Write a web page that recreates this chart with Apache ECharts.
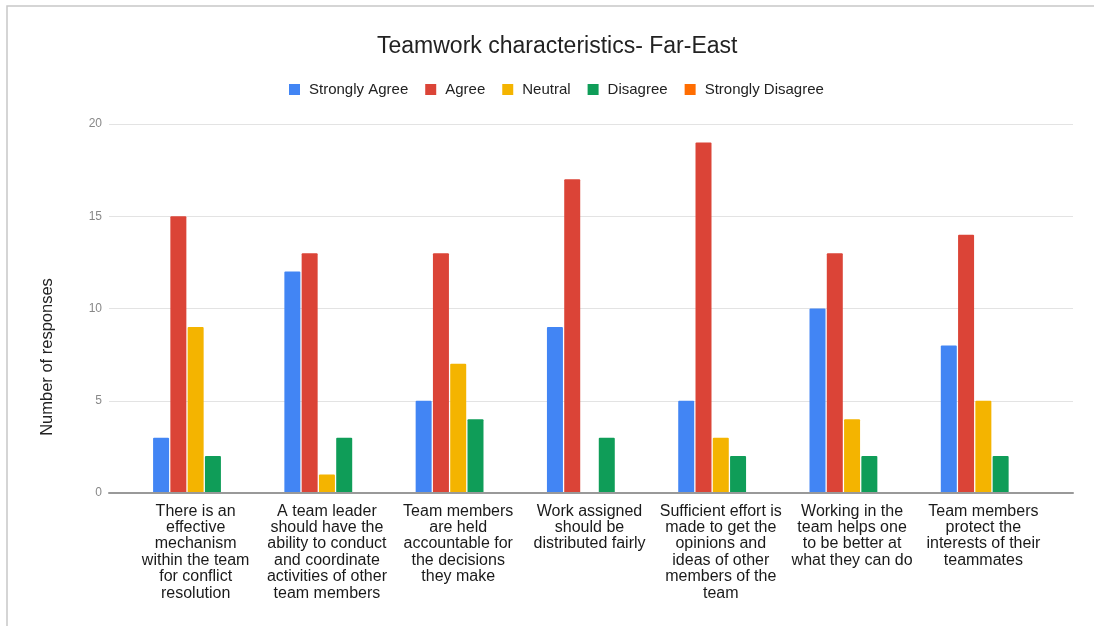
<!DOCTYPE html>
<html>
<head>
<meta charset="utf-8">
<script src="https://cdn.jsdelivr.net/npm/echarts@6/dist/echarts.min.js"></script>
<style>
html,body{margin:0;padding:0;background:#fff;}
#c{width:1094px;height:626px;}
</style>
</head>
<body>
<div id="c"></div>
<script>
var categories = [
  "There is an\neffective\nmechanism\nwithin the team\nfor conflict\nresolution",
  "A team leader\nshould have the\nability to conduct\nand coordinate\nactivities of other\nteam members",
  "Team members\nare held\naccountable for\nthe decisions\nthey make",
  "Work assigned\nshould be\ndistributed fairly",
  "Sufficient effort is\nmade to get the\nopinions and\nideas of other\nmembers of the\nteam",
  "Working in the\nteam helps one\nto be better at\nwhat they can do",
  "Team members\nprotect the\ninterests of their\nteammates"
];
var seriesNames = ["Strongly Agree", "Agree", "Neutral", "Disagree", "Strongly Disagree"];
var stronglyAgree    = [3, 12, 5, 9, 5, 10, 8];
var agree            = [15, 13, 13, 17, 19, 13, 14];
var neutral          = [9, 1, 7, 0, 3, 4, 5];
var disagree         = [2, 3, 4, 3, 2, 2, 2];
var stronglyDisagree = [0, 0, 0, 0, 0, 0, 0];
var yTicks = [0, 5, 10, 15, 20];
var colors = ["#4285F4", "#DB4437", "#F4B400", "#0F9D58", "#FF6D01"];

var FONT = "'Liberation Sans', Arial, sans-serif";
var values = [stronglyAgree, agree, neutral, disagree, stronglyDisagree];

var chart = echarts.init(document.getElementById('c'), null, {renderer: 'canvas'});
var series = seriesNames.map(function (n, i) {
  return {
    name: n,
    type: 'bar',
    xAxisIndex: 1,
    yAxisIndex: 1,
    data: values[i],
    barWidth: 16,
    barGap: '8%',
    itemStyle: {color: colors[i], borderRadius: [1, 1, 0, 0]}
  };
});

chart.setOption({
  animation: false,
  color: colors,
  textStyle: {fontFamily: FONT},
  title: {
    text: 'Teamwork characteristics- Far-East',
    left: 377,
    top: 35,
    padding: 0,
    textStyle: {fontFamily: FONT, fontSize: 23, fontWeight: 'normal', color: '#222'}
  },
  legend: {
    left: 289,
    top: 82,
    padding: 0,
    itemWidth: 11,
    itemHeight: 11,
    itemGap: 17,
    icon: 'rect',
    data: seriesNames,
    textStyle: {fontFamily: FONT, fontSize: 15, color: '#222', padding: [0, 0, 0, 4]}
  },
  graphic: [
    {
      type: 'polyline',
      shape: {points: [[7, 626], [7, 6], [1094, 6]]},
      style: {stroke: '#c8c8c8', lineWidth: 1.5, fill: null},
      silent: true
    },
    {
      type: 'text',
      x: 47,
      y: 357,
      rotation: Math.PI / 2,
      style: {
        text: 'Number of responses',
        fontFamily: FONT,
        fontSize: 16.5,
        fill: '#222',
        textAlign: 'center',
        textVerticalAlign: 'middle'
      }
    }
  ],
  grid: [
    {left: 109, right: 21, top: 124, bottom: 133},
    {left: 130, right: 45, top: 124, bottom: 133}
  ],
  xAxis: [
    {
      gridIndex: 0,
      type: 'category',
      data: [''],
      axisLine: {show: true, lineStyle: {color: '#999', width: 2}},
      axisTick: {show: false},
      axisLabel: {show: false},
      z: 5
    },
    {
      gridIndex: 1,
      type: 'category',
      data: categories,
      axisLine: {show: false},
      axisTick: {show: false},
      axisLabel: {
        interval: 0,
        margin: 10,
        fontFamily: FONT,
        fontSize: 16,
        lineHeight: 16.4,
        color: '#1a1a1a',
        align: 'center'
      }
    }
  ],
  yAxis: [
    {
      gridIndex: 0,
      type: 'value',
      min: yTicks[0],
      max: yTicks[yTicks.length - 1],
      interval: 5,
      axisLine: {show: false},
      axisTick: {show: false},
      axisLabel: {margin: 7, fontFamily: FONT, fontSize: 12, color: '#888'},
      splitLine: {show: true, lineStyle: {color: '#e3e3e3', width: 1}}
    },
    {
      gridIndex: 1,
      type: 'value',
      min: yTicks[0],
      max: yTicks[yTicks.length - 1],
      interval: 5,
      show: false,
      splitLine: {show: false}
    }
  ],
  series: series
});
</script>
</body>
</html>
